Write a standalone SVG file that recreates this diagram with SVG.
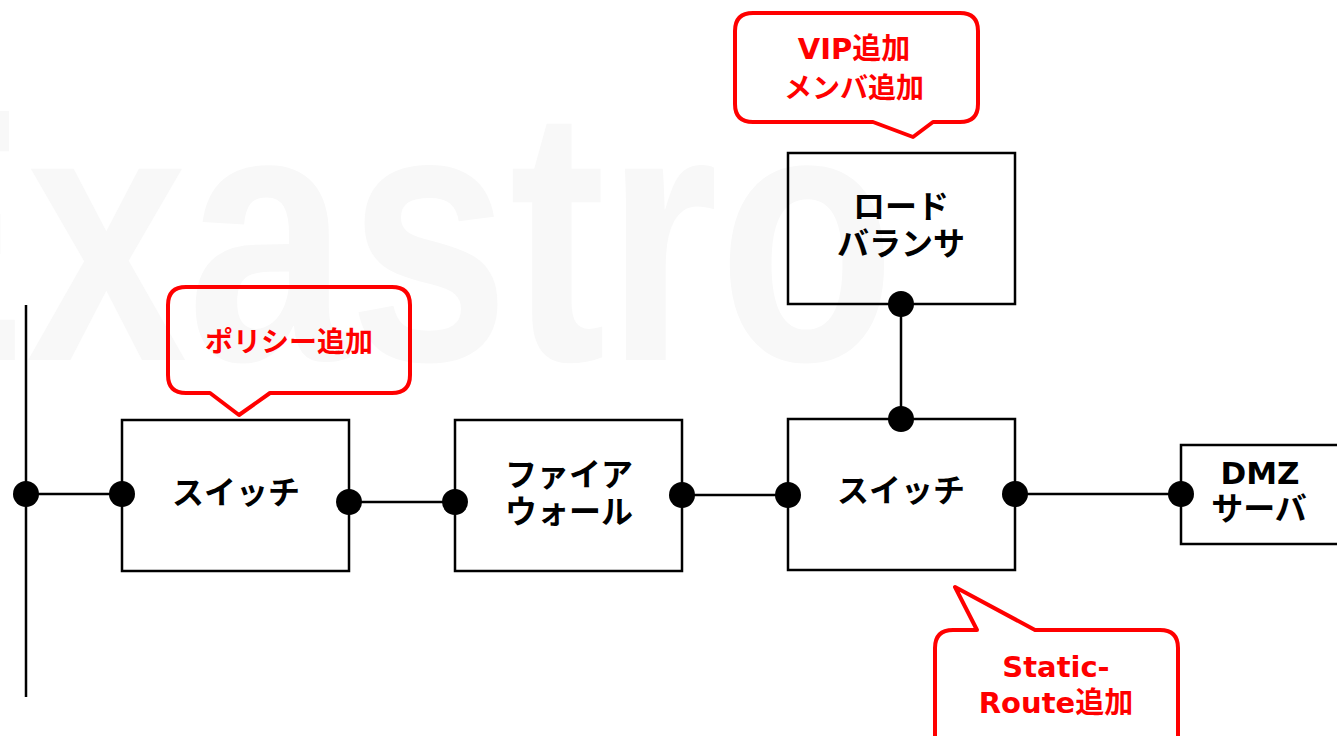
<svg xmlns="http://www.w3.org/2000/svg" width="1337" height="736" viewBox="0 0 1337 736">
<style>
.box{fill:none;stroke:#000;stroke-width:2.5}
.wire{stroke:#000;stroke-width:2.5;fill:none}
.dot{fill:#000}
.lbl{font-family:"DejaVu Sans","Noto Sans CJK JP",sans-serif;font-weight:bold;font-size:32px;fill:#000;text-anchor:middle}
.lbl2{font-family:"DejaVu Sans","Noto Sans CJK JP",sans-serif;font-weight:bold;font-size:31px;fill:#000;text-anchor:middle}
.call{fill:none;stroke:#ff0000;stroke-width:4;stroke-linejoin:round}
.ctxt{font-family:"DejaVu Sans","Noto Sans CJK JP",sans-serif;font-weight:bold;font-size:28px;fill:#ff0000;text-anchor:middle}
</style>
<rect width="1337" height="736" fill="#fff"/>
<text transform="translate(-167,360) scale(0.8,1)" font-family="Liberation Sans, Arial, sans-serif" font-weight="bold" font-size="362" fill="#f8f8f8">Exastro</text>

<g id="connectors">
<line class="wire" x1="26" y1="305" x2="26" y2="697"/>
<line class="wire" x1="26" y1="494" x2="122" y2="494"/>
<line class="wire" x1="349" y1="502" x2="455" y2="502"/>
<line class="wire" x1="682" y1="495" x2="788" y2="495"/>
<line class="wire" x1="901" y1="304" x2="901" y2="419"/>
<line class="wire" x1="1015" y1="494" x2="1181" y2="494"/>
<circle class="dot" cx="26" cy="494" r="13"/>
<circle class="dot" cx="122" cy="494" r="13"/>
<circle class="dot" cx="349" cy="502" r="13"/>
<circle class="dot" cx="455" cy="502" r="13"/>
<circle class="dot" cx="682" cy="495" r="13"/>
<circle class="dot" cx="788" cy="495" r="13"/>
<circle class="dot" cx="901" cy="304" r="13"/>
<circle class="dot" cx="901" cy="419" r="13"/>
<circle class="dot" cx="1015" cy="494" r="13"/>
<circle class="dot" cx="1181" cy="494" r="13"/>
</g>

<g id="switch1">
<rect class="box" x="122" y="420" width="227" height="151"/>
<text class="lbl" x="236" y="504">スイッチ</text>
</g>
<g id="firewall">
<rect class="box" x="455" y="420" width="227" height="151"/>
<text class="lbl" x="569" y="486">ファイア</text>
<text class="lbl" x="569" y="523">ウォール</text>
</g>
<g id="switch2">
<rect class="box" x="788" y="419" width="227" height="151"/>
<text class="lbl" x="901" y="502">スイッチ</text>
</g>
<g id="loadbalancer">
<rect class="box" x="788" y="153" width="227" height="151"/>
<text class="lbl" x="901" y="218">ロード</text>
<text class="lbl" x="901" y="255">バランサ</text>
</g>
<g id="dmz">
<rect class="box" x="1181" y="445" width="170" height="99"/>
<text class="lbl2" x="1260" y="484">DMZ</text>
<text class="lbl" x="1259" y="520">サーバ</text>
</g>

<g id="callout-policy">
<path class="call" d="M186,287 H392 Q410,287 410,305 V375 Q410,393 392,393 H270 L239,415 L210,393 H186 Q168,393 168,375 V305 Q168,287 186,287 Z"/>
<text class="ctxt" x="289" y="352">ポリシー追加</text>
</g>
<g id="callout-vip">
<path class="call" d="M753,13 H960 Q978,13 978,31 V104 Q978,122 960,122 H933 L913,137 L873,122 H753 Q735,122 735,104 V31 Q735,13 753,13 Z"/>
<text class="ctxt" style="font-size:29px" x="854" y="59">VIP追加</text>
<text class="ctxt" x="854" y="98">メンバ追加</text>
</g>
<g id="callout-route">
<path class="call" d="M953,630 H977 L955,587 L1035,630 H1160 Q1178,630 1178,648 V760 H935 V648 Q935,630 953,630 Z"/>
<text class="ctxt" style="font-size:29px" x="1056" y="677">Static-</text>
<text class="ctxt" style="font-size:29px" x="1056" y="713">Route追加</text>
</g>
</svg>
